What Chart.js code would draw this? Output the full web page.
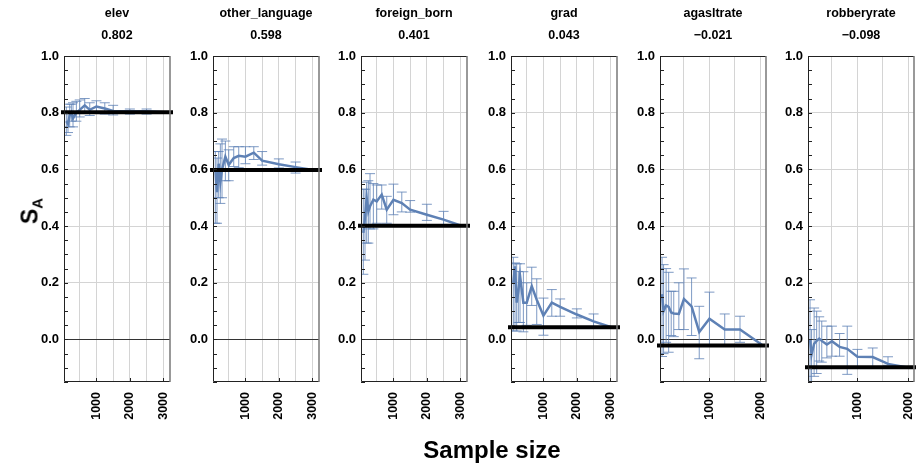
<!DOCTYPE html>
<html>
<head>
<meta charset="utf-8">
<script src="https://cdn.jsdelivr.net/npm/chart.js@4.4.0/dist/chart.umd.min.js"></script>
<style>
  body { margin: 0; background: #fff; }
  #wrap { position: relative; width: 916px; height: 463px; font-family: 'Liberation Sans', Arial, sans-serif; }
  .panel { position: absolute; top: 0; height: 463px; }
  #ylab { position: absolute; left: 31px; top: 211px; transform: translate(-50%, -50%) rotate(-90deg);
          font-weight: bold; font-size: 23px; white-space: nowrap; }
  #ylab sub { font-size: 15px; vertical-align: -5px; }
  #xlab { position: absolute; left: 492px; top: 450px; transform: translate(-50%, -50%);
          font-weight: bold; font-size: 24px; white-space: nowrap; }
</style>
</head>
<body>
<div id="wrap">
  <div class="panel"><canvas id="c0"></canvas></div>
  <div class="panel"><canvas id="c1"></canvas></div>
  <div class="panel"><canvas id="c2"></canvas></div>
  <div class="panel"><canvas id="c3"></canvas></div>
  <div class="panel"><canvas id="c4"></canvas></div>
  <div class="panel"><canvas id="c5"></canvas></div>
  <div id="ylab">S<sub>A</sub></div>
  <div id="xlab">Sample size</div>
</div>
<script>
// variable names and full-sample values
const panelNames = ['elev', 'other_language', 'foreign_born', 'grad', 'agasltrate', 'robberyrate'];
const fullValues = [0.802, 0.598, 0.401, 0.043, -0.021, -0.098];

// sample sizes
const sizesA = [100, 150, 200, 250, 300, 400, 500, 650, 800, 1000, 1250, 1500, 2000, 2500, 3030];
const sizesB = [70, 100, 150, 200, 250, 300, 400, 500, 650, 800, 1000, 1300, 1600, 2050];
const sizesC = [70, 100, 150, 200, 250, 300, 400, 500, 650, 800, 1000, 1300, 1600, 1950];

// elev
const elevMean = [0.77, 0.76, 0.79, 0.80, 0.78, 0.80, 0.81, 0.826, 0.81, 0.822, 0.815, 0.806, 0.805, 0.805, 0.802];
const elevLow  = [0.72, 0.73, 0.75, 0.77, 0.75, 0.77, 0.785, 0.80, 0.79, 0.80, 0.795, 0.792, 0.795, 0.795, 0.802];
const elevHigh = [0.82, 0.80, 0.83, 0.83, 0.835, 0.84, 0.845, 0.85, 0.835, 0.842, 0.835, 0.826, 0.813, 0.813, 0.802];

// other_language
const olMean = [0.60, 0.52, 0.62, 0.555, 0.60, 0.645, 0.616, 0.64, 0.648, 0.645, 0.659, 0.631, 0.618, 0.608, 0.598];
const olLow  = [0.41, 0.41, 0.50, 0.48, 0.50, 0.56, 0.56, 0.61, 0.606, 0.62, 0.635, 0.615, 0.605, 0.587, 0.598];
const olHigh = [0.663, 0.64, 0.663, 0.69, 0.707, 0.70, 0.669, 0.68, 0.68, 0.68, 0.68, 0.663, 0.637, 0.626, 0.598];

// foreign_born
const fbMean = [0.376, 0.43, 0.499, 0.452, 0.47, 0.493, 0.487, 0.511, 0.458, 0.493, 0.481, 0.458, 0.440, 0.423, 0.401];
const fbLow  = [0.23, 0.28, 0.34, 0.34, 0.39, 0.39, 0.41, 0.46, 0.41, 0.44, 0.45, 0.449, 0.42, 0.40, 0.401];
const fbHigh = [0.53, 0.53, 0.555, 0.56, 0.585, 0.55, 0.545, 0.545, 0.505, 0.548, 0.52, 0.49, 0.477, 0.452, 0.401];

// grad
const gradMean = [0.20, 0.258, 0.13, 0.17, 0.225, 0.13, 0.13, 0.188, 0.14, 0.084, 0.13, 0.115, 0.088, 0.064, 0.043];
const gradLow  = [0.03, 0.04, 0.03, 0.06, 0.06, 0.027, 0.05, 0.12, 0.053, 0.015, 0.082, 0.082, 0.076, 0.041, 0.043];
const gradHigh = [0.29, 0.27, 0.267, 0.24, 0.267, 0.239, 0.20, 0.255, 0.214, 0.146, 0.176, 0.143, 0.108, 0.09, 0.043];

// agasltrate
const agMean = [0.16, 0.10, 0.12, 0.115, 0.095, 0.092, 0.09, 0.143, 0.117, 0.026, 0.073, 0.035, 0.035, -0.021];
const agLow  = [-0.06, -0.05, -0.01, -0.045, 0.014, 0.01, 0.035, 0.035, 0.014, -0.068, -0.02, -0.02, -0.01, -0.021];
const agHigh = [0.29, 0.264, 0.25, 0.237, 0.17, 0.17, 0.20, 0.249, 0.217, 0.117, 0.167, 0.09, 0.082, -0.021];

// robberyrate
const rbMean = [0.0, -0.053, -0.015, -0.005, 0.003, -0.005, -0.018, -0.006, -0.026, -0.033, -0.061, -0.062, -0.086, -0.098];
const rbLow  = [-0.15, -0.15, -0.13, -0.12, -0.076, -0.08, -0.065, -0.059, -0.059, -0.123, -0.10, -0.10, -0.091, -0.098];
const rbHigh = [0.14, 0.035, 0.111, 0.10, 0.08, 0.065, 0.047, 0.047, 0.021, 0.047, -0.035, -0.03, -0.061, -0.098];

const panels = [
  {sizes: sizesA, mean: elevMean, low: elevLow, high: elevHigh, xMax: 3200},
  {sizes: sizesA, mean: olMean, low: olLow, high: olHigh, xMax: 3200},
  {sizes: sizesA, mean: fbMean, low: fbLow, high: fbHigh, xMax: 3200},
  {sizes: sizesA, mean: gradMean, low: gradLow, high: gradHigh, xMax: 3200},
  {sizes: sizesB, mean: agMean, low: agLow, high: agHigh, xMax: 2110},
  {sizes: sizesC, mean: rbMean, low: rbLow, high: rbHigh, xMax: 2110},
];

const plotLeft = [64, 213, 361, 511, 660, 808];
const plotWidth = 106;
const axisW = 44, padR = 8;
const lineColor = '#5E81B5';

Chart.defaults.font.family = "'Liberation Sans', Arial, sans-serif";
Chart.defaults.color = '#000';

function fmt(v) {
  return v.toFixed(3).replace('-', '\u2212');
}

function drawPanel(i) {
  const p = panels[i];
  const ref = fullValues[i];
  const holder = document.getElementsByClassName('panel')[i];
  holder.style.left = (plotLeft[i] - axisW) + 'px';
  holder.style.width = (axisW + plotWidth + padR) + 'px';

  const decor = {
    id: 'decor' + i,
    beforeDatasetsDraw(chart) {
      const {ctx, chartArea: a, scales: {x, y}} = chart;
      ctx.save();
      ctx.beginPath();
      ctx.rect(a.left, a.top, a.right - a.left, a.bottom - a.top);
      ctx.clip();
      ctx.strokeStyle = 'rgba(94,129,181,0.8)';
      ctx.lineWidth = 1;
      p.sizes.forEach((s, k) => {
        const px = x.getPixelForValue(s);
        const y1 = y.getPixelForValue(p.low[k]);
        const y2 = y.getPixelForValue(p.high[k]);
        if (Math.abs(y1 - y2) < 0.5) return;
        ctx.beginPath();
        ctx.moveTo(px, y1); ctx.lineTo(px, y2);
        ctx.moveTo(px - 5, y1); ctx.lineTo(px + 5, y1);
        ctx.moveTo(px - 5, y2); ctx.lineTo(px + 5, y2);
        ctx.stroke();
      });
      ctx.restore();
    },
    afterDatasetsDraw(chart) {
      const {ctx, chartArea: a, scales: {x, y}} = chart;
      ctx.save();
      // full sample value
      const ry = y.getPixelForValue(ref);
      ctx.strokeStyle = '#000';
      ctx.lineWidth = 4;
      ctx.beginPath();
      ctx.moveTo(a.left - 3, ry); ctx.lineTo(a.right + 3, ry);
      ctx.stroke();
      // frame
      ctx.lineWidth = 1;
      ctx.strokeStyle = '#222';
      ctx.beginPath();
      ctx.moveTo(a.right, a.top + 0.5); ctx.lineTo(a.left + 0.5, a.top + 0.5);
      ctx.lineTo(a.left + 0.5, a.bottom - 0.5); ctx.lineTo(a.right, a.bottom - 0.5);
      ctx.stroke();
      ctx.strokeStyle = '#777';
      ctx.lineWidth = 1.5;
      ctx.beginPath();
      ctx.moveTo(a.right, a.top); ctx.lineTo(a.right, a.bottom);
      ctx.stroke();
      // inward ticks
      ctx.strokeStyle = '#222';
      ctx.lineWidth = 1;
      ctx.beginPath();
      y.ticks.forEach(t => {
        const ty = Math.round(y.getPixelForValue(t.value)) + 0.5;
        ctx.moveTo(a.left, ty); ctx.lineTo(a.left + 4, ty);
      });
      x.ticks.forEach(t => {
        if (t.value % 1000 !== 0) return;
        const tx = Math.round(x.getPixelForValue(t.value)) + 0.5;
        ctx.moveTo(tx, a.bottom); ctx.lineTo(tx, a.bottom - 4);
      });
      ctx.stroke();
      ctx.restore();
    }
  };

  return new Chart(document.getElementById('c' + i), {
    type: 'line',
    data: {
      datasets: [{
        data: p.sizes.map((s, k) => ({x: s, y: p.mean[k]})),
        borderColor: lineColor,
        borderWidth: 2.5,
        pointRadius: 0,
        tension: 0,
        fill: false,
      }]
    },
    options: {
      responsive: true,
      maintainAspectRatio: false,
      animation: false,
      layout: { padding: { left: 0, right: padR, top: 0, bottom: 0 } },
      plugins: {
        legend: { display: false },
        tooltip: { enabled: false },
        title: {
          display: true,
          fullSize: false,
          text: [panelNames[i], fmt(ref)],
          font: { size: 12.5, weight: 'bold', lineHeight: 1.76 },
          padding: { top: 3, bottom: 9 },
          color: '#000',
        },
      },
      scales: {
        x: {
          type: 'linear',
          min: 30,
          max: p.xMax,
          afterBuildTicks: scale => {
            const t = [];
            for (let v = 500; v < p.xMax; v += 500) t.push({value: v});
            scale.ticks = t;
          },
          afterFit: scale => {
            scale.height = 81;
            scale.paddingLeft = 0;
            scale.paddingRight = 0;
          },
          grid: { color: '#d4d4d4', lineWidth: 1, drawTicks: false },
          border: { display: false },
          ticks: {
            autoSkip: false,
            minRotation: 90,
            maxRotation: 90,
            padding: 10,
            font: { size: 12.5, weight: 'bold' },
            callback: v => (v % 1000 === 0 ? String(v) : ''),
          },
        },
        y: {
          min: -0.15,
          max: 1.0,
          afterBuildTicks: scale => {
            const t = [];
            for (let k = -3; k <= 20; k++) t.push({value: k / 20});
            scale.ticks = t;
          },
          afterFit: scale => {
            scale.width = axisW;
            scale.paddingTop = 0;
            scale.paddingBottom = 0;
          },
          grid: {
            drawTicks: false,
            lineWidth: 1,
            color: c => {
              const k = Math.round(c.tick.value * 20);
              if (k === 0) return '#333';
              return k % 4 === 0 ? '#d4d4d4' : 'rgba(0,0,0,0)';
            },
          },
          border: { display: false },
          ticks: {
            autoSkip: false,
            padding: 5,
            font: { size: 13, weight: 'bold' },
            callback: v => {
              const k = Math.round(v * 20);
              return k % 4 === 0 ? (k / 20).toFixed(1) : '';
            },
          },
        },
      },
    },
    plugins: [decor],
  });
}

for (let i = 0; i < panels.length; i++) drawPanel(i);
</script>
</body>
</html>
